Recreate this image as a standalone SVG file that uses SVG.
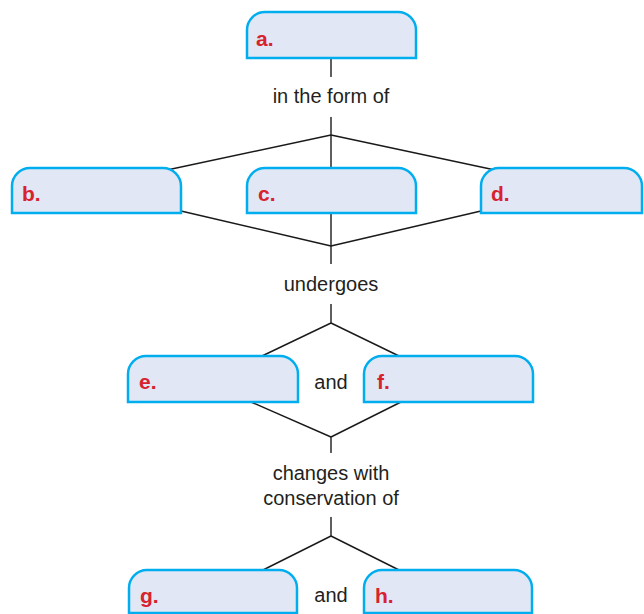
<svg xmlns="http://www.w3.org/2000/svg" width="644" height="614" viewBox="0 0 644 614">
<style>
.node{fill:#E1E7F4;stroke:#00AEEF;stroke-width:2.5}
.lbl{font-family:"Liberation Sans",Arial,sans-serif;font-weight:bold;font-size:21px;fill:#D7232E}
.txt{font-family:"Liberation Sans",Arial,sans-serif;font-size:20px;fill:#231F20;text-anchor:middle}
.conn line{stroke:#1A1A1A;stroke-width:1.4}
</style>
<rect width="644" height="614" fill="#FFFFFF"/>
<g id="connectors" class="conn">
<line x1="331" y1="58" x2="331" y2="77"/>
<line x1="331" y1="117" x2="331" y2="135"/>
<line x1="331" y1="135" x2="167" y2="170"/>
<line x1="331" y1="135" x2="331" y2="168"/>
<line x1="331" y1="135" x2="495" y2="170"/>
<line x1="181" y1="211" x2="331" y2="246"/>
<line x1="481" y1="211" x2="331" y2="246"/>
<line x1="331" y1="213" x2="331" y2="264"/>
<line x1="331" y1="304" x2="331" y2="323"/>
<line x1="331" y1="323" x2="262" y2="356"/>
<line x1="331" y1="323" x2="399" y2="356"/>
<line x1="251" y1="402" x2="331" y2="437"/>
<line x1="401" y1="402" x2="331" y2="437"/>
<line x1="331" y1="437" x2="331" y2="453"/>
<line x1="331" y1="517" x2="331" y2="536"/>
<line x1="331" y1="536" x2="263" y2="570"/>
<line x1="331" y1="536" x2="399" y2="570"/>
</g>
<g id="node-a"><path class="node" d="M247,58 V30 A18,18 0 0 1 265,12 H398 A18,18 0 0 1 416,30 V58 Z"/><text class="lbl" x="256" y="46">a.</text></g>
<g id="label-form"><text class="txt" x="331" y="103">in the form of</text></g>
<g id="node-b"><path class="node" d="M12,213 V186 A18,18 0 0 1 30,168 H163 A18,18 0 0 1 181,186 V213 Z"/><text class="lbl" x="22" y="201">b.</text></g>
<g id="node-c"><path class="node" d="M247,213 V186 A18,18 0 0 1 265,168 H398 A18,18 0 0 1 416,186 V213 Z"/><text class="lbl" x="258" y="201">c.</text></g>
<g id="node-d"><path class="node" d="M481,213 V186 A18,18 0 0 1 499,168 H624 A18,18 0 0 1 642,186 V213 Z"/><text class="lbl" x="491" y="201">d.</text></g>
<g id="label-undergoes"><text class="txt" x="331" y="291">undergoes</text></g>
<g id="node-e"><path class="node" d="M128,402 V374 A18,18 0 0 1 146,356 H280 A18,18 0 0 1 298,374 V402 Z"/><text class="lbl" x="139" y="389">e.</text></g>
<g id="label-and1"><text class="txt" x="331" y="389">and</text></g>
<g id="node-f"><path class="node" d="M364,402 V374 A18,18 0 0 1 382,356 H515 A18,18 0 0 1 533,374 V402 Z"/><text class="lbl" x="377" y="389">f.</text></g>
<g id="label-changes"><text class="txt" x="331" y="480">changes with</text><text class="txt" x="331" y="505">conservation of</text></g>
<g id="node-g"><path class="node" d="M129,613 V588 A18,18 0 0 1 147,570 H279 A18,18 0 0 1 297,588 V613 Z"/><text class="lbl" x="140" y="603">g.</text></g>
<g id="label-and2"><text class="txt" x="331" y="602">and</text></g>
<g id="node-h"><path class="node" d="M364,613 V588 A18,18 0 0 1 382,570 H514 A18,18 0 0 1 532,588 V613 Z"/><text class="lbl" x="375" y="603">h.</text></g>
</svg>
